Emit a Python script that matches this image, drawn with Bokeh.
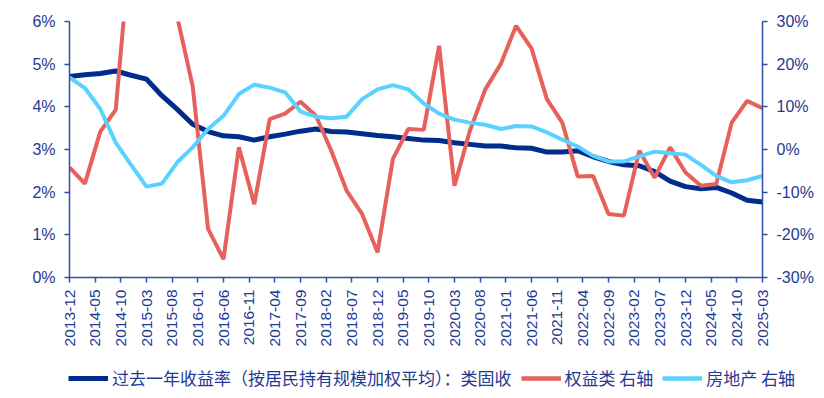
from bokeh.plotting import figure
from bokeh.layouts import column
from bokeh.models import Range1d, LinearAxis, FixedTicker, PrintfTickFormatter, Legend, LegendItem
from bokeh.embed import file_html
from bokeh.resources import INLINE
import math

# ---------------- data ----------------
dates = ["2013-12", "2014-03", "2014-06", "2014-09", "2014-12", "2015-03", "2015-06", "2015-09",
         "2015-12", "2016-03", "2016-06", "2016-09", "2016-12", "2017-03", "2017-06", "2017-09",
         "2017-12", "2018-03", "2018-06", "2018-09", "2018-12", "2019-03", "2019-06", "2019-09",
         "2019-12", "2020-03", "2020-06", "2020-09", "2020-12", "2021-03", "2021-06", "2021-09",
         "2021-12", "2022-03", "2022-06", "2022-09", "2022-12", "2023-03", "2023-06", "2023-09",
         "2023-12", "2024-03", "2024-06", "2024-09", "2024-12", "2025-03"]

fixed_income = [4.71, 4.75, 4.78, 4.84, 4.74, 4.65, 4.26, 3.94, 3.59, 3.42, 3.32, 3.30,
                3.22, 3.30, 3.36, 3.43, 3.48, 3.42, 3.41, 3.37, 3.33, 3.30, 3.26,
                3.22, 3.21, 3.16, 3.12, 3.08, 3.08, 3.04, 3.03, 2.94, 2.94, 2.97,
                2.83, 2.72, 2.64, 2.62, 2.48, 2.26, 2.13, 2.08, 2.11, 1.98, 1.81, 1.77]

equity = [-4.2, -8.0, 4.2, 9.3, 50.0, 70.0, 90.0, 31.0, 14.8, -18.6, -25.7, 0.5,
          -12.8, 7.1, 8.4, 11.2, 7.9, -0.3, -9.7, -15.1, -24.1, -2.2, 4.8,
          4.6, 24.3, -8.5, 4.4, 14.1, 20.0, 29.0, 23.7, 11.8, 6.3, -6.3,
          -6.2, -15.1, -15.5, -0.3, -6.6, 0.5, -5.4, -8.5, -8.1, 6.3, 11.4, 9.7]

real_estate = [16.9, 14.4, 9.5, 1.6, -3.6, -8.7, -8.0, -3.0, 0.5, 4.8, 7.9, 13.0,
               15.2, 14.5, 13.4, 8.9, 7.7, 7.3, 7.7, 11.8, 14.1, 15.1, 14.1,
               10.8, 8.4, 7.0, 6.3, 5.8, 4.8, 5.5, 5.4, 4.0, 2.3, 0.7,
               -1.5, -2.8, -2.8, -1.6, -0.5, -0.9, -1.2, -3.6, -6.2, -7.7, -7.2, -6.2]

tick_labels = ["2013-12", "2014-05", "2014-10", "2015-03", "2015-08", "2016-01", "2016-06",
               "2016-11", "2017-04", "2017-09", "2018-02", "2018-07", "2018-12", "2019-05",
               "2019-10", "2020-03", "2020-08", "2021-01", "2021-06", "2021-11", "2022-04",
               "2022-09", "2023-02", "2023-07", "2023-12", "2024-05", "2024-10", "2025-03"]

left_ticks = [0, 1, 2, 3, 4, 5, 6]
right_ticks = [-30, -20, -10, 0, 10, 20, 30]

series_names = ["过去一年收益率（按居民持有规模加权平均）：类固收", "权益类 右轴", "房地产 右轴"]

# ---------------- helpers ----------------
def month_index(s):
    y, m = s.split("-")
    return (int(y) - 2013) * 12 + int(m) - 12

x = [month_index(d) for d in dates]
xt = [month_index(t) for t in tick_labels]

AXIS = "#2E4FA6"
TEXT = "#1F3A93"
C_FIX = "#002C8C"
C_EQ = "#E6605C"
C_RE = "#5AD2FF"
W = 816

p = figure(width=W, height=352, output_backend="svg", toolbar_location=None,
           x_range=Range1d(xt[0], xt[-1]), y_range=Range1d(left_ticks[0], left_ticks[-1]),
           min_border_left=69, min_border_right=54, min_border_top=21, min_border_bottom=75)
p.extra_y_ranges = {"right": Range1d(right_ticks[0], right_ticks[-1])}
p.outline_line_color = None
p.xgrid.visible = False
p.ygrid.visible = False
p.background_fill_color = "white"
p.border_fill_color = "white"
p.frame_align = False

p.line(x, fixed_income, line_color=C_FIX, line_width=5)
p.line(x, equity, line_color=C_EQ, line_width=4, y_range_name="right")
p.line(x, real_estate, line_color=C_RE, line_width=4, y_range_name="right")

def style_axis(ax):
    ax.axis_line_color = AXIS
    ax.axis_line_width = 1.5
    ax.major_tick_line_color = AXIS
    ax.major_tick_line_width = 1.5
    ax.minor_tick_line_color = None
    ax.major_tick_in = 0
    ax.major_tick_out = 5
    ax.major_label_text_color = TEXT
    ax.major_label_text_font = "Liberation Sans"
    ax.major_label_text_font_size = "16px"

# x axis
xa = p.xaxis[0]
style_axis(xa)
xa.ticker = FixedTicker(ticks=xt)
xa.major_label_overrides = {v: lab for v, lab in zip(xt, tick_labels)}
xa.major_label_orientation = math.pi / 2
xa.major_label_text_font_size = "15.5px"
xa.major_label_standoff = 7

# left y axis
ya = p.yaxis[0]
style_axis(ya)
ya.ticker = FixedTicker(ticks=left_ticks)
ya.formatter = PrintfTickFormatter(format="%d%%")
ya.major_label_standoff = 9

# right y axis
ra = LinearAxis(y_range_name="right", ticker=FixedTicker(ticks=right_ticks),
                formatter=PrintfTickFormatter(format="%d%%"))
style_axis(ra)
ra.major_label_standoff = 9
p.add_layout(ra, "right")

# ---------------- legend strip ----------------
lg = figure(width=W, height=38, output_backend="svg", toolbar_location=None,
            x_axis_location=None, y_axis_location=None,
            x_range=Range1d(0, 1), y_range=Range1d(0, 1),
            min_border_left=0, min_border_right=0, min_border_top=0, min_border_bottom=0)
lg.outline_line_color = None
lg.xgrid.visible = False
lg.ygrid.visible = False
lg.background_fill_color = "white"
lg.border_fill_color = "white"
lg.frame_align = False
# legend proxies (drawn outside the strip's ranges, only their legend swatches show)
k1 = lg.line([5, 6], [5, 6], line_color=C_FIX, line_width=5)
k2 = lg.line([5, 6], [5, 6], line_color=C_EQ, line_width=4.5)
k3 = lg.line([5, 6], [5, 6], line_color=C_RE, line_width=4.5)

legend = Legend(items=[LegendItem(label=series_names[0], renderers=[k1]),
                       LegendItem(label=series_names[1], renderers=[k2]),
                       LegendItem(label=series_names[2], renderers=[k3])],
                orientation="horizontal", location=(68, 0))
legend.border_line_color = None
legend.background_fill_alpha = 0
legend.label_text_font = "Noto Sans CJK SC"
legend.label_text_font_size = "17px"
legend.label_text_color = TEXT
legend.glyph_width = 40
legend.glyph_height = 16
legend.label_standoff = 4
legend.spacing = 9
legend.padding = 0
legend.margin = 0
lg.add_layout(legend)

open("out.html", "w").write(file_html(column(p, lg, spacing=0), INLINE))
